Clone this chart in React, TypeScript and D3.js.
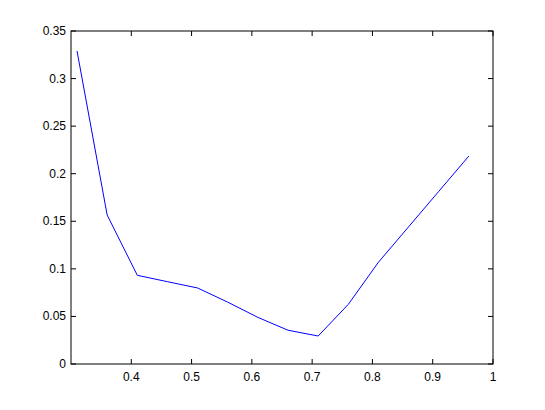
import React from "react";
import * as d3 from "d3";

const xValues = [0.31, 0.36, 0.41, 0.46, 0.51, 0.56, 0.61, 0.66, 0.71, 0.76, 0.81, 0.86, 0.91, 0.96];
const yValues = [0.329, 0.1566, 0.0932, 0.0865, 0.0799, 0.065, 0.049, 0.0355, 0.0294, 0.0627, 0.107, 0.1442, 0.1814, 0.2186];
const xTicks = [0.4, 0.5, 0.6, 0.7, 0.8, 0.9, 1];
const yTicks = [0, 0.05, 0.1, 0.15, 0.2, 0.25, 0.3, 0.35];

export default function App() {
  const W = 545, H = 410;
  const left = 71, right = 493, top = 31, bottom = 364;
  const x = d3.scaleLinear().domain([0.3, 1]).range([left, right]);
  const y = d3.scaleLinear().domain([0, 0.35]).range([bottom, top]);
  const line = d3.line<number>().x((_, i) => x(xValues[i])).y((d) => y(d));
  const tl = 5;
  const font = "'Liberation Sans', Arial, Helvetica, sans-serif";
  return (
    <svg width={W} height={H} style={{ position: "absolute", left: 0, top: 0, background: "#fff" }}>
      <rect x={0} y={0} width={W} height={H} fill="#fff" />
      <rect x={left} y={top} width={right - left} height={bottom - top} fill="#fff" stroke="#000" strokeWidth={1} />
      {xTicks.map((t) => (
        <g key={"x" + t}>
          <line x1={x(t)} x2={x(t)} y1={bottom} y2={bottom - tl} stroke="#000" />
          <line x1={x(t)} x2={x(t)} y1={top} y2={top + tl} stroke="#000" />
          <text x={x(t)} y={bottom + 17} textAnchor="middle" fontFamily={font} fontSize={12} fill="#000">
            {d3.format("")(t)}
          </text>
        </g>
      ))}
      {yTicks.map((t) => (
        <g key={"y" + t}>
          <line x1={left} x2={left + tl} y1={y(t)} y2={y(t)} stroke="#000" />
          <line x1={right} x2={right - tl} y1={y(t)} y2={y(t)} stroke="#000" />
          <text x={left - 5} y={y(t) + 4} textAnchor="end" fontFamily={font} fontSize={12} fill="#000">
            {d3.format("")(t)}
          </text>
        </g>
      ))}
      <path d={line(yValues) || ""} fill="none" stroke="#0000ff" strokeWidth={1} />
    </svg>
  );
}
